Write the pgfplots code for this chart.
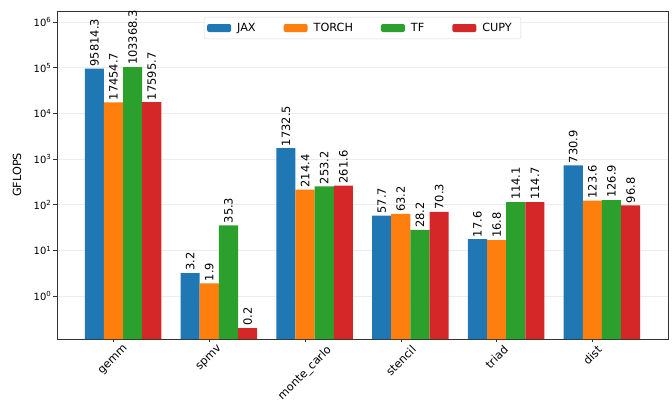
\documentclass[border=0pt]{standalone}
\usepackage{pgfplots}
\pgfplotsset{compat=1.18}
\usepackage{fontspec}
\setmainfont{DejaVu Sans}
\definecolor{cJ}{HTML}{1F77B4}
\definecolor{cT}{HTML}{FF7F0E}
\definecolor{cF}{HTML}{2CA02C}
\definecolor{cC}{HTML}{D62728}
\begin{document}
\begin{tikzpicture}
\begin{axis}[
  scale only axis, width=611bp, height=328bp,
  ymode=log, log basis y=10, log origin=infty,
  ymin=0.115, ymax=1.75e6,
  xmin=-0.69, xmax=5.69,
  xtick={-0.1,0.9,1.9,2.9,3.9,4.9},
  xticklabels={\rotatebox{45}{gemm},\rotatebox{45}{spmv},\rotatebox{45}{monte\_carlo},\rotatebox{45}{stencil},\rotatebox{45}{triad},\rotatebox{45}{dist}},
  ytick={1,10,100,1000,10000,100000,1000000},
  yticklabel={10\textsuperscript{\pgfmathprintnumber[fixed,precision=0]{\tick}}},
  /pgf/number format/assume math mode=true,
  ybar, bar width=0.2, bar shift=0pt,
  ymajorgrids, major grid style={gray!15, line width=0.6pt},
  tick align=outside, tick pos=left,
  major tick length=3.5bp, minor tick length=2bp,
  every tick/.style={black!80, line width=0.6pt},
  axis line style={black!80, line width=0.8pt},
  x tick label style={font=\fontsize{11.3}{13}\selectfont, anchor=north, inner sep=2bp},
  y tick label style={font=\fontsize{10}{12}\selectfont, inner sep=2bp},
  ylabel={GFLOPS}, ylabel style={font=\fontsize{11.3}{13}\selectfont, yshift=7bp},
  nodes near coords, point meta=explicit symbolic,
  every node near coord/.style={rotate=90, anchor=west, font=\fontsize{11.5}{13}\selectfont, inner sep=2bp, black},
  legend columns=4,
  legend style={at={(0.5,0.982)}, anchor=north, draw=gray!30, rounded corners=2pt,
    font=\fontsize{11.3}{13}\selectfont, /tikz/every even column/.append style={column sep=22bp},
    inner xsep=3bp, inner ysep=4bp, nodes={inner xsep=6bp}},
  legend image code/.code={\fill[#1] (0bp,-4bp) rectangle (24bp,4bp);},
  clip=false
]
\addplot[fill=cJ, draw=none] coordinates {(-0.3,95814.3)[95814.3] (0.7,3.2)[3.2] (1.7,1732.5)[1732.5] (2.7,57.7)[57.7] (3.7,17.6)[17.6] (4.7,730.9)[730.9]};
\addplot[fill=cT, draw=none] coordinates {(-0.1,17454.7)[17454.7] (0.9,1.9)[1.9] (1.9,214.4)[214.4] (2.9,63.2)[63.2] (3.9,16.8)[16.8] (4.9,123.6)[123.6]};
\addplot[fill=cF, draw=none] coordinates {(0.1,103368.3)[103368.3] (1.1,35.3)[35.3] (2.1,253.2)[253.2] (3.1,28.2)[28.2] (4.1,114.1)[114.1] (5.1,126.9)[126.9]};
\addplot[fill=cC, draw=none] coordinates {(0.3,17595.7)[17595.7] (1.3,0.2)[0.2] (2.3,261.6)[261.6] (3.3,70.3)[70.3] (4.3,114.7)[114.7] (5.3,96.8)[96.8]};
\legend{JAX,TORCH,TF,CUPY}
\coordinate (bl) at (rel axis cs:0,0);
\coordinate (tr) at (rel axis cs:1,1);
\end{axis}
\pgfresetboundingbox
\path ([xshift=-57bp,yshift=-70bp]bl) rectangle ([xshift=4bp,yshift=11bp]tr);
\end{tikzpicture}
\end{document}
